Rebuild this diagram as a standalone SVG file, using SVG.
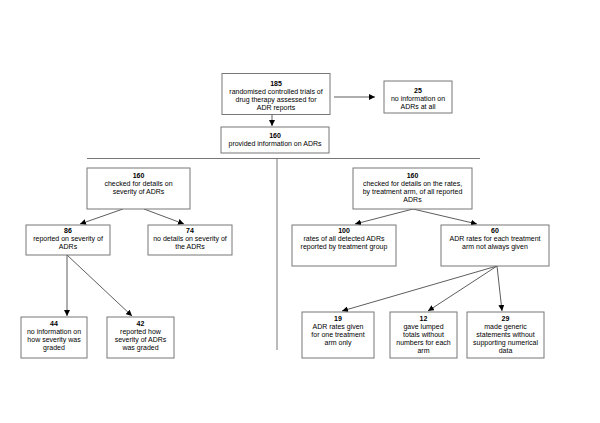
<svg xmlns="http://www.w3.org/2000/svg" width="600" height="423" viewBox="0 0 600 423">
<defs>
<marker id="ah" viewBox="0 0 10 10" refX="10" refY="5" markerWidth="6" markerHeight="6" markerUnits="userSpaceOnUse" orient="auto">
<path d="M0,0 L10,5 L0,10 z" fill="#000"/>
</marker>
<style>
.box{fill:#fff;stroke:#777;stroke-width:1}
.t{font-family:"Liberation Sans",Arial,sans-serif;font-size:7px;fill:#000;text-anchor:middle}
.b{font-weight:bold}
.c{stroke:#333;stroke-width:0.8;fill:none;marker-end:url(#ah)}
.d{stroke:#777;stroke-width:1;fill:none}
</style>
</defs>
<rect width="600" height="423" fill="#fff"/>
<g id="connectors">
<line class="d" x1="87" y1="158.5" x2="480" y2="158.5"/>
<line class="d" x1="277" y1="158.5" x2="277" y2="350"/>
<line class="c" x1="334" y1="97" x2="375" y2="97"/>
<line class="c" x1="272" y1="114" x2="272" y2="126"/>
<line class="c" x1="123" y1="209" x2="80" y2="224"/>
<line class="c" x1="144" y1="209" x2="184" y2="224"/>
<line class="c" x1="67" y1="255" x2="67" y2="316"/>
<line class="c" x1="67" y1="255" x2="132" y2="316"/>
<line class="c" x1="413" y1="209" x2="355" y2="224"/>
<line class="c" x1="413" y1="209" x2="477" y2="224"/>
<line class="c" x1="497" y1="266" x2="342" y2="311"/>
<line class="c" x1="497" y1="266" x2="428" y2="311"/>
<line class="c" x1="497" y1="266" x2="502" y2="311"/>
</g>
<g id="n185">
<rect class="box" x="222" y="73.5" width="108" height="41"/>
<text class="t b" x="276" y="86">185</text>
<text class="t" x="276" y="94">randomised controlled trials of</text>
<text class="t" x="276" y="102">drug therapy assessed for</text>
<text class="t" x="276" y="110">ADR reports</text>
</g>
<g id="n25">
<rect class="box" x="384" y="81" width="68" height="32"/>
<text class="t b" x="418" y="93">25</text>
<text class="t" x="418" y="101">no information on</text>
<text class="t" x="418" y="109">ADRs at all</text>
</g>
<g id="n160a">
<rect class="box" x="221" y="127" width="108" height="26"/>
<text class="t b" x="275" y="138">160</text>
<text class="t" x="275" y="146">provided information on ADRs</text>
</g>
<g id="n160b">
<rect class="box" x="87" y="168" width="103" height="41"/>
<text class="t b" x="138.5" y="178">160</text>
<text class="t" x="138.5" y="186">checked for details on</text>
<text class="t" x="138.5" y="194">severity of ADRs</text>
</g>
<g id="n86">
<rect class="box" x="26" y="225" width="84" height="30"/>
<text class="t b" x="68" y="233">86</text>
<text class="t" x="68" y="241">reported on severity of</text>
<text class="t" x="68" y="249">ADRs</text>
</g>
<g id="n74">
<rect class="box" x="148" y="225" width="84" height="30"/>
<text class="t b" x="190" y="233">74</text>
<text class="t" x="190" y="241">no details on severity of</text>
<text class="t" x="190" y="249">the ADRs</text>
</g>
<g id="n44">
<rect class="box" x="21" y="317" width="66" height="41"/>
<text class="t b" x="54" y="326">44</text>
<text class="t" x="54" y="334">no information on</text>
<text class="t" x="54" y="342">how severity was</text>
<text class="t" x="54" y="350">graded</text>
</g>
<g id="n42">
<rect class="box" x="107" y="317" width="67" height="41"/>
<text class="t b" x="140.5" y="326">42</text>
<text class="t" x="140.5" y="334">reported how</text>
<text class="t" x="140.5" y="342">severity of ADRs</text>
<text class="t" x="140.5" y="350">was graded</text>
</g>
<g id="n160c">
<rect class="box" x="353" y="168" width="119" height="41"/>
<text class="t b" x="412.5" y="178">160</text>
<text class="t" x="412.5" y="186">checked for details on the rates,</text>
<text class="t" x="412.5" y="194">by treatment arm, of all reported</text>
<text class="t" x="412.5" y="202">ADRs</text>
</g>
<g id="n100">
<rect class="box" x="292" y="225" width="104" height="41"/>
<text class="t b" x="344" y="233">100</text>
<text class="t" x="344" y="241">rates of all detected ADRs</text>
<text class="t" x="344" y="249">reported by treatment group</text>
</g>
<g id="n60">
<rect class="box" x="441" y="225" width="108" height="41"/>
<text class="t b" x="495" y="233">60</text>
<text class="t" x="495" y="241">ADR rates for each treatment</text>
<text class="t" x="495" y="249">arm not always given</text>
</g>
<g id="n19">
<rect class="box" x="302" y="312" width="72" height="46"/>
<text class="t b" x="338" y="321">19</text>
<text class="t" x="338" y="329">ADR rates given</text>
<text class="t" x="338" y="337">for one treatment</text>
<text class="t" x="338" y="345">arm only</text>
</g>
<g id="n12">
<rect class="box" x="390" y="312" width="67" height="46"/>
<text class="t b" x="423.5" y="321">12</text>
<text class="t" x="423.5" y="329">gave lumped</text>
<text class="t" x="423.5" y="337">totals without</text>
<text class="t" x="423.5" y="345">numbers for each</text>
<text class="t" x="423.5" y="353">arm</text>
</g>
<g id="n29">
<rect class="box" x="467" y="312" width="77" height="46"/>
<text class="t b" x="505.5" y="321">29</text>
<text class="t" x="505.5" y="329">made generic</text>
<text class="t" x="505.5" y="337">statements without</text>
<text class="t" x="505.5" y="345">supporting numerical</text>
<text class="t" x="505.5" y="353">data</text>
</g>
</svg>
